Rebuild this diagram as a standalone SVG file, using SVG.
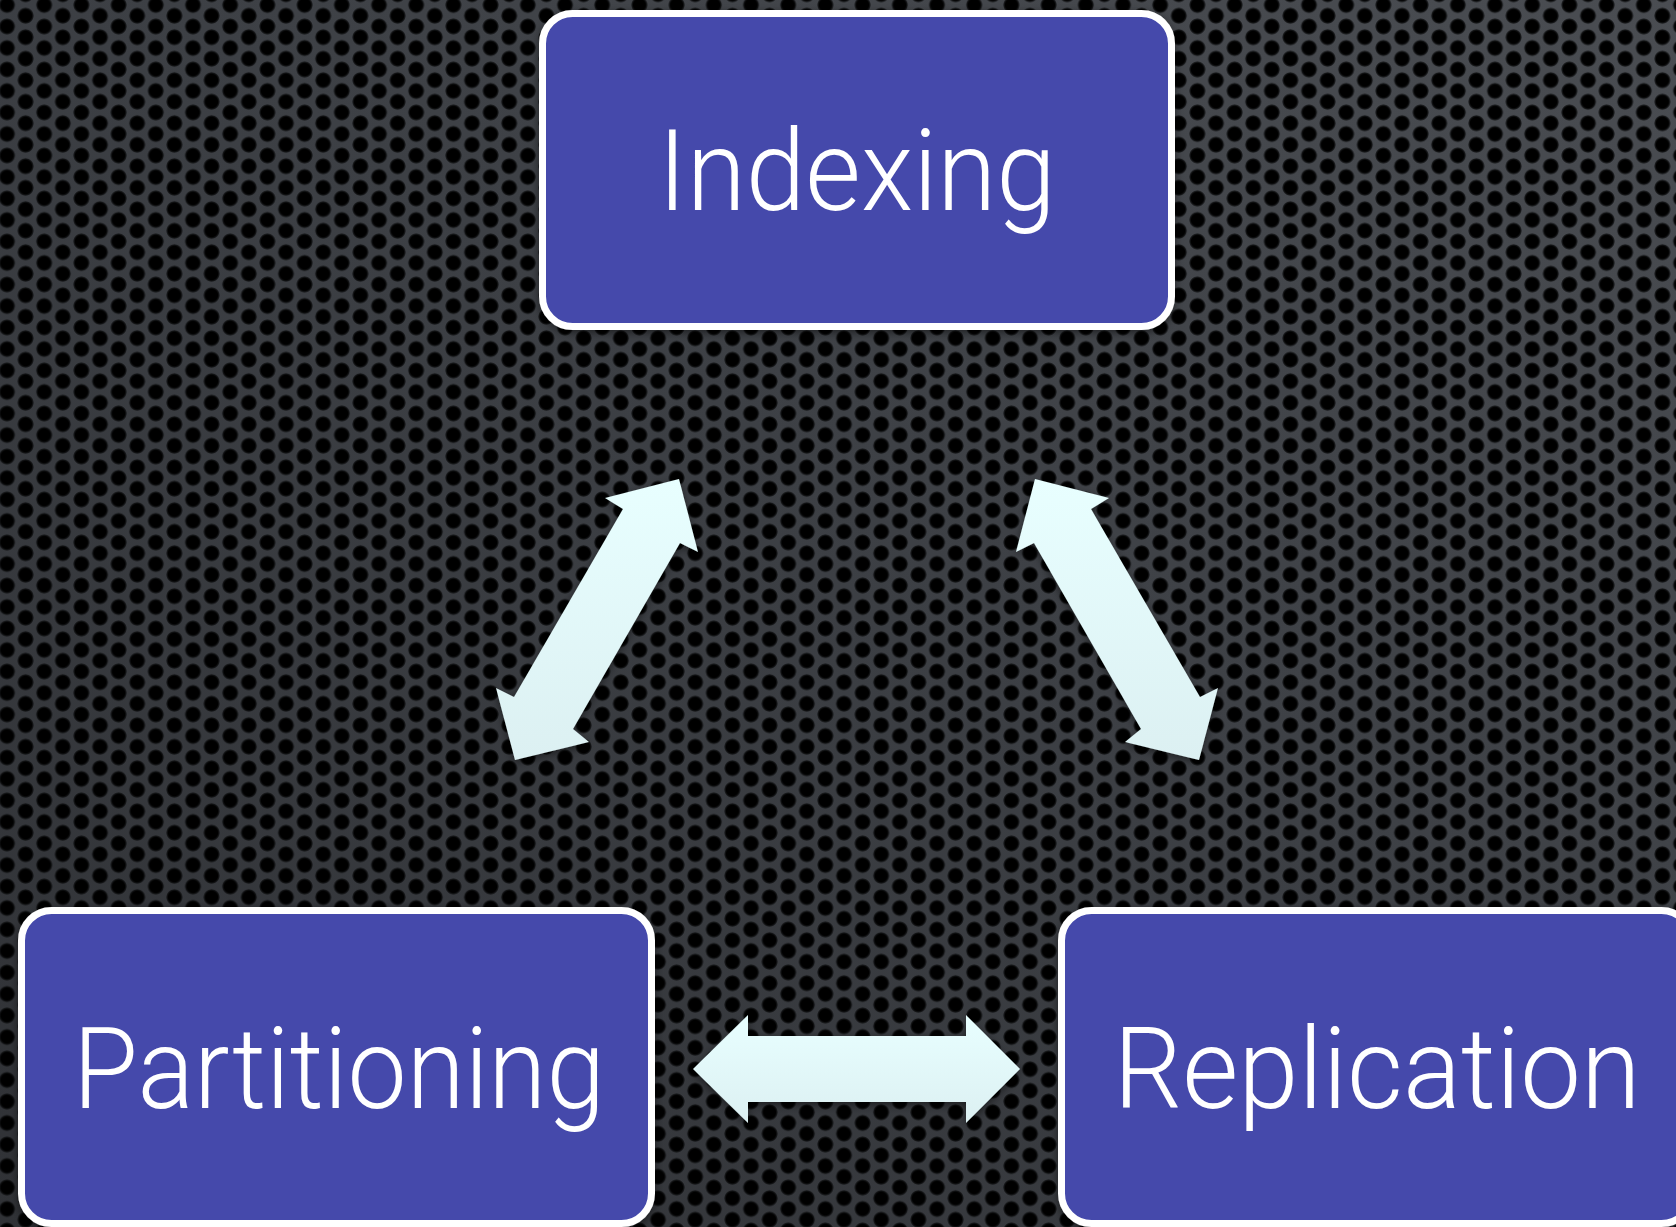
<svg xmlns="http://www.w3.org/2000/svg" width="1676" height="1227" viewBox="0 0 1676 1227">
  <defs>
    <!-- dark metal base lighting -->
    <linearGradient id="metal" x1="1" y1="0" x2="0" y2="1">
      <stop offset="0" stop-color="#4a4d52"/>
      <stop offset="0.45" stop-color="#3d4045"/>
      <stop offset="1" stop-color="#303236"/>
    </linearGradient>
    <radialGradient id="hole" cx="0.5" cy="0.5" r="0.5">
      <stop offset="0" stop-color="#000"/>
      <stop offset="0.72" stop-color="#000"/>
      <stop offset="0.88" stop-color="#0a0b0c" stop-opacity="0.8"/>
      <stop offset="1" stop-color="#000" stop-opacity="0"/>
    </radialGradient>
    <!-- perforation: staggered columns of round holes -->
    <pattern id="perf" patternUnits="userSpaceOnUse" x="-2.3" y="-0.4" width="37.2" height="21.5">
      <circle cx="9.3" cy="5.375" r="8.4" fill="url(#hole)"/>
      <circle cx="27.9" cy="16.125" r="8.4" fill="url(#hole)"/>
      <circle cx="27.9" cy="-5.375" r="8.4" fill="url(#hole)"/>
      <circle cx="-9.3" cy="16.125" r="8.4" fill="url(#hole)"/>
      <circle cx="46.5" cy="5.375" r="8.4" fill="url(#hole)"/>
      <circle cx="9.3" cy="26.875" r="8.4" fill="url(#hole)"/>
    </pattern>
    <linearGradient id="arrowFill" x1="0" y1="0" x2="0" y2="1">
      <stop offset="0" stop-color="#e8ffff"/>
      <stop offset="1" stop-color="#dcf0f2"/>
    </linearGradient>
    <filter id="shadow" x="-10%" y="-10%" width="120%" height="120%">
      <feDropShadow dx="0" dy="3" stdDeviation="4" flood-color="#000" flood-opacity="0.5"/>
    </filter>
    <style>
      .box { fill: #444aab; stroke: #ffffff; stroke-width: 7; filter: url(#shadow); }
      .label { fill: #ffffff; font-family: Roboto, "Liberation Sans", Arial, sans-serif; font-weight: 300; font-size: 113px; text-anchor: middle; }
      .arrow { fill: url(#arrowFill); filter: url(#shadow); }
    </style>
  </defs>

  <!-- background -->
  <rect width="1676" height="1227" fill="url(#metal)"/>
  <rect width="1676" height="1227" fill="url(#perf)"/>

  <!-- nodes -->
  <g id="node-indexing">
    <rect class="box" x="542.5" y="13.5" width="629" height="313" rx="30"/>
    <text class="label" x="857" y="210" textLength="398" lengthAdjust="spacingAndGlyphs">Indexing</text>
  </g>
  <g id="node-partitioning">
    <rect class="box" x="21.5" y="910.5" width="630" height="313" rx="30"/>
    <text class="label" x="339" y="1108" textLength="532" lengthAdjust="spacingAndGlyphs">Partitioning</text>
  </g>
  <g id="node-replication">
    <rect class="box" x="1061.5" y="910.5" width="630" height="313" rx="30"/>
    <text class="label" x="1377" y="1108" textLength="527" lengthAdjust="spacingAndGlyphs">Replication</text>
  </g>

  <!-- connectors: double-headed block arrows -->
  <g id="connectors">
    <polygon id="edge-indexing-partitioning" class="arrow"
      points="679,479 698,552 680,543 573,729 589,742 515,760 496,688 514,697 623,509 605,498"/>
    <polygon id="edge-indexing-replication" class="arrow"
      points="1035,479 1016,552 1034,543 1141,729 1125,742 1199,760 1218,688 1200,697 1091,509 1109,498"/>
    <polygon id="edge-partitioning-replication" class="arrow"
      points="693,1069 748,1015 748,1036 966,1036 966,1015 1020,1069 966,1123 966,1102 748,1102 748,1123"/>
  </g>
</svg>
